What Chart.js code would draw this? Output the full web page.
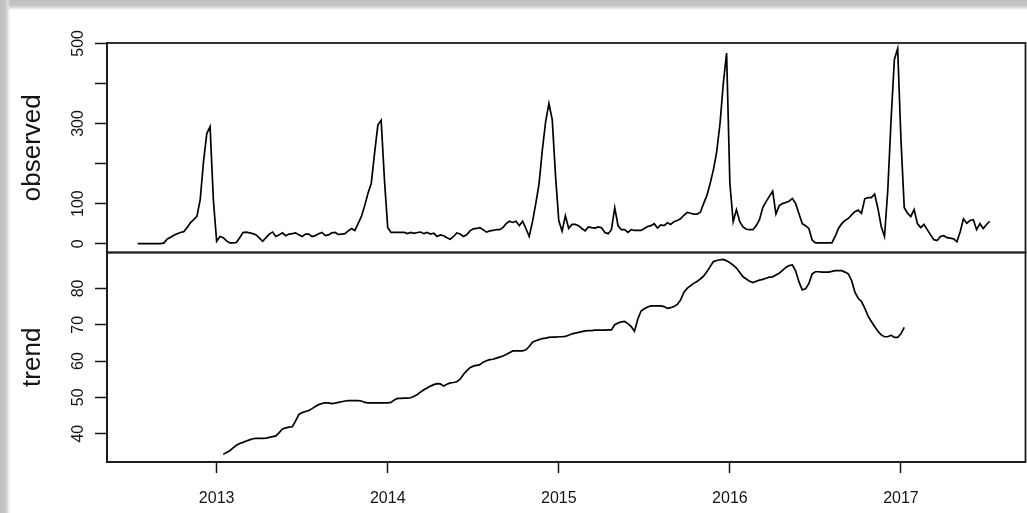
<!DOCTYPE html>
<html>
<head>
<meta charset="utf-8">
<title>Decomposition of weekly series</title>
<script src="https://cdn.jsdelivr.net/npm/chart.js@4.4.1/dist/chart.umd.min.js"></script>
<style>
  html, body { margin: 0; padding: 0; background: #ffffff; }
  #wrap { position: relative; width: 1027px; height: 513px; overflow: hidden; background: #ffffff; }
  #wrap canvas { position: absolute; left: 0; top: 0; }
  .edge { position: absolute; pointer-events: none; }
  #edgeTop { left: 0; top: 0; width: 1027px; height: 10px;
    background: linear-gradient(to bottom, #c0c0c0 0%, #c6c6c6 55%, #e2e2e2 80%, rgba(255,255,255,0) 100%); }
  #edgeLeft { left: 0; top: 0; width: 10px; height: 513px;
    background: linear-gradient(to right, #c0c0c0 0%, #c6c6c6 55%, #e2e2e2 80%, rgba(255,255,255,0) 100%); }
</style>
</head>
<body>
<div id="wrap">
  <canvas id="chart" width="1027" height="513"></canvas>
  <div class="edge" id="edgeTop"></div>
  <div class="edge" id="edgeLeft"></div>
</div>
<script>
// Weekly series: first observation is week 29 of 2012, 52 weeks per year.
const startYear = 2012;
const startWeek = 29;
const weeksPerYear = 52;

const observed = [
  0, 0, 0, 0, 0, 0, 0, 0, 2, 12,
  16, 21, 25, 28, 30, 40, 52, 60, 68, 110,
  205, 275, 292, 109, 6, 18, 15, 7, 2, 2,
  3, 15, 28, 29, 27, 25, 22, 14, 6, 15,
  24, 29, 18, 22, 27, 20, 24, 25, 27, 22,
  18, 24, 24, 18, 20, 25, 28, 20, 22, 27,
  28, 23, 24, 25, 32, 38, 33, 50, 68, 95,
  126, 151, 226, 296, 308, 160, 40, 28, 28, 28,
  28, 28, 25, 28, 26, 28, 29, 25, 28, 24,
  26, 18, 22, 20, 15, 11, 18, 27, 24, 18,
  22, 32, 37, 38, 40, 35, 29, 32, 33, 35,
  35, 40, 50, 56, 53, 56, 45, 56, 38, 18,
  55, 100, 150, 234, 305, 350, 310, 170, 57, 31,
  70, 38, 48, 48, 45, 38, 32, 42, 40, 39,
  42, 40, 28, 25, 35, 90, 45, 35, 35, 28,
  35, 33, 33, 33, 38, 43, 45, 50, 39, 47,
  45, 52, 48, 55, 58, 62, 71, 78, 76, 74,
  74, 78, 100, 120, 150, 185, 230, 300, 400, 476,
  150, 55, 85, 55, 42, 36, 35, 35, 45, 60,
  90, 105, 118, 131, 74, 95, 100, 103, 106, 113,
  100, 75, 50, 45, 38, 9, 2, 2, 2, 2,
  2, 2, 18, 38, 50, 58, 63, 72, 80, 84,
  76, 112, 115, 115, 124, 88, 43, 18, 134, 310,
  460, 487, 260, 90, 76, 68, 85, 50, 40, 48,
  35, 22, 10, 8, 18, 20, 15, 14, 12, 5,
  30, 62, 51, 58, 60, 35, 50, 38, 48, 56
];

// Centred 52-week moving average; undefined for the first and last 26 weeks.
const trendOffset = 26;
const trend = [
  34.3, 34.8, 35.3, 36.1, 36.8, 37.3, 37.6, 38.0, 38.3, 38.6,
  38.7, 38.7, 38.7, 38.8, 39.0, 39.2, 39.4, 40.3, 41.3, 41.6,
  41.8, 41.9, 43.5, 45.3, 45.8, 46.1, 46.4, 46.9, 47.5, 48.0,
  48.3, 48.5, 48.5, 48.3, 48.4, 48.6, 48.8, 49.0, 49.1, 49.1,
  49.1, 49.1, 49.0, 48.6, 48.5, 48.5, 48.5, 48.5, 48.5, 48.5,
  48.5, 48.6, 49.3, 49.7, 49.7, 49.8, 49.8, 49.9, 50.3, 50.8,
  51.5, 52.1, 52.6, 53.1, 53.5, 53.8, 53.7, 53.1, 53.6, 54.0,
  54.1, 54.3, 55.0, 56.3, 57.3, 58.2, 58.6, 58.8, 59.0, 59.7,
  60.1, 60.4, 60.5, 60.8, 61.1, 61.4, 61.8, 62.3, 62.8, 62.8,
  62.8, 62.8, 63.1, 64.0, 65.2, 65.6, 65.9, 66.2, 66.3, 66.5,
  66.6, 66.6, 66.7, 66.7, 66.8, 67.1, 67.5, 67.7, 67.9, 68.1,
  68.3, 68.4, 68.4, 68.5, 68.5, 68.5, 68.5, 68.6, 68.6, 70.0,
  70.5, 70.8, 70.9, 70.3, 69.5, 68.2, 71.5, 73.8, 74.4, 74.9,
  75.2, 75.2, 75.2, 75.2, 75.0, 74.5, 74.7, 75.0, 75.6, 76.8,
  78.9, 80.0, 80.7, 81.4, 81.9, 82.6, 83.4, 84.6, 86.0, 87.4,
  87.7, 87.9, 88.0, 87.6, 87.1, 86.4, 85.6, 84.4, 83.2, 82.6,
  82.0, 81.6, 82.0, 82.3, 82.5, 82.8, 83.1, 83.2, 83.7, 84.2,
  85.0, 85.8, 86.3, 86.5, 84.8, 81.8, 79.6, 79.9, 81.3, 84.0,
  84.6, 84.6, 84.5, 84.5, 84.5, 84.7, 84.9, 84.9, 84.9, 84.5,
  84.0, 82.2, 79.0, 77.3, 76.4, 74.6, 72.4, 70.9, 69.5, 68.2,
  67.2, 66.7, 66.7, 67.1, 66.5, 66.5, 67.5, 69.3
];

const yearTicks = [2013, 2014, 2015, 2016, 2017];
const observedTicks = [0, 100, 200, 300, 400, 500];
const observedTickLabels = ['0', '100', '', '300', '', '500'];
const trendTicks = [40, 50, 60, 70, 80];
const trendTickLabels = ['40', '50', '60', '70', '80'];
const panelTitles = ['observed', 'trend'];

const FONT = "'Liberation Sans', Arial, Helvetica, sans-serif";
const INK = '#141414';
const FRAME = '#1c1c1c';

const timeOf = i => startYear + (startWeek - 1 + i) / weeksPerYear;
const observedPoints = observed.map((v, i) => ({ x: timeOf(i), y: v }));
const trendPoints = trend.map((v, i) => ({ x: timeOf(i + trendOffset), y: v }));

// Box around each panel plus the rotated numeric labels on the left axes.
const panelFrame = {
  id: 'panelFrame',
  afterDraw(chart) {
    const { ctx, chartArea, scales } = chart;
    ctx.save();
    ctx.strokeStyle = FRAME;
    ctx.lineWidth = 1.8;
    ['yObs', 'yTrend'].forEach(id => {
      const s = scales[id];
      ctx.strokeRect(chartArea.left, s.top, chartArea.right - chartArea.left, s.bottom - s.top);
    });
    ctx.fillStyle = INK;
    ctx.font = '16px ' + FONT;
    ctx.textAlign = 'center';
    ctx.textBaseline = 'alphabetic';
    const sets = [
      [scales.yObs, observedTicks, observedTickLabels],
      [scales.yTrend, trendTicks, trendTickLabels]
    ];
    sets.forEach(([s, values, labels]) => {
      values.forEach((v, k) => {
        if (!labels[k]) return;
        ctx.save();
        ctx.translate(s.right - 24, s.getPixelForValue(v));
        ctx.rotate(-Math.PI / 2);
        ctx.fillText(labels[k], 0, 0);
        ctx.restore();
      });
    });
    ctx.restore();
  }
};

const yAxisCommon = {
  type: 'linear',
  position: 'left',
  stack: 'panels',
  stackWeight: 1,
  afterFit: s => { s.width = 107; },
  grid: { display: true, drawOnChartArea: false, drawTicks: true, tickLength: 12, tickColor: INK, tickWidth: 1.5 },
  border: { display: true, color: FRAME, width: 1.8 },
  ticks: { display: false }
};

new Chart(document.getElementById('chart'), {
  type: 'line',
  data: {
    datasets: [
      { label: panelTitles[0], data: observedPoints, yAxisID: 'yObs', borderColor: '#000', borderWidth: 1.7,
        pointRadius: 0, tension: 0, fill: false },
      { label: panelTitles[1], data: trendPoints, yAxisID: 'yTrend', borderColor: '#000', borderWidth: 1.7,
        pointRadius: 0, tension: 0, fill: false }
    ]
  },
  options: {
    responsive: false,
    animation: false,
    events: [],
    layout: { padding: { top: 43, right: 1.5, left: 0, bottom: 0 } },
    plugins: { legend: { display: false }, tooltip: { enabled: false } },
    scales: {
      x: {
        type: 'linear',
        position: 'bottom',
        min: 2012.359,
        max: 2017.728,
        afterBuildTicks: s => { s.ticks = yearTicks.map(v => ({ value: v })); },
        afterFit: s => { s.height = 51; },
        grid: { display: true, drawOnChartArea: false, drawTicks: true, tickLength: 11, tickColor: INK, tickWidth: 1.5 },
        border: { display: true, color: FRAME, width: 1.8 },
        ticks: { autoSkip: false, maxRotation: 0, minRotation: 0, padding: 16, color: INK,
          font: { family: FONT, size: 16 }, callback: v => String(v) }
      },
      yObs: Object.assign({}, yAxisCommon, {
        weight: 2,
        min: -22,
        max: 501,
        afterBuildTicks: s => { s.ticks = observedTicks.map(v => ({ value: v })); },
        title: { display: true, text: panelTitles[0], color: INK, font: { family: FONT, size: 26 }, padding: { top: 17, bottom: 0 } }
      }),
      yTrend: Object.assign({}, yAxisCommon, {
        weight: 1,
        min: 32.2,
        max: 89.9,
        afterBuildTicks: s => { s.ticks = trendTicks.map(v => ({ value: v })); },
        title: { display: true, text: panelTitles[1], color: INK, font: { family: FONT, size: 26 }, padding: { top: 17, bottom: 0 } }
      })
    }
  },
  plugins: [panelFrame]
});
</script>
</body>
</html>
